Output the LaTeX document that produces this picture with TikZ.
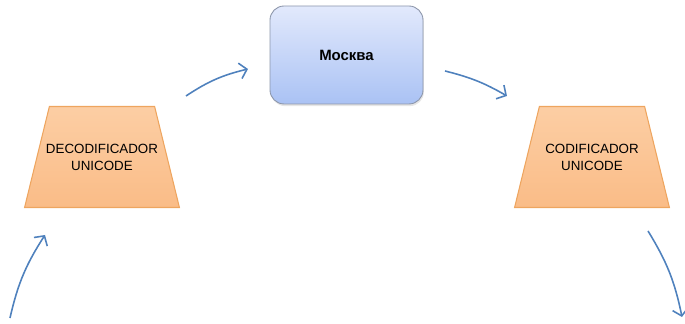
\documentclass[tikz,border=0pt]{standalone}
\usepackage{fontspec}
\setmainfont{Liberation Sans}
\usepackage{xcolor}
\usepackage{tikz}
\usetikzlibrary{calc,shapes,shapes.geometric,shadows,arrows.meta,positioning}
\definecolor{arrowblue}{RGB}{79,129,189}
\definecolor{boxtop}{RGB}{226,233,252}
\definecolor{boxbot}{RGB}{170,194,244}
\definecolor{boxline}{RGB}{140,150,170}
\definecolor{traptop}{RGB}{252,206,164}
\definecolor{trapbot}{RGB}{250,188,135}
\definecolor{trapline}{RGB}{238,165,95}

\begin{document}
\begin{tikzpicture}

           \tikzstyle{every edge}=[-{Straight Barb[length=4pt,width=9pt]},draw=arrowblue,line width=0.9pt]
           \tikzstyle{cityBox}=[rounded corners=8pt, draw=boxline, line width=0.5pt, top color=boxtop, bottom color=boxbot,
                                minimum width=3.06cm, minimum height=1.96cm, drop shadow={opacity=0.2,shadow xshift=0.5pt,shadow yshift=-1.2pt},
                                font=\fontsize{8.5}{10}\selectfont\bfseries]
           \tikzstyle{coderBox}=[trapezium, trapezium left angle=57, trapezium right angle=57, trapezium stretches body,
                                 draw=trapline, line width=0.6pt, top color=traptop, bottom color=trapbot,
                                 minimum width=2.4cm, minimum height=2.02cm, align=center, font=\fontsize{7.6}{9.7}\selectfont]

   \useasboundingbox (0,0) rectangle (13.7,6.48);

    \node[cityBox] (M) at (6.93,5.38) {Москва};
    \node[coderBox] (D) at (2.04,3.34) {\makebox[1.87cm]{DECODIFICADOR}\\\makebox[1.87cm]{UNICODE}};
    \node[coderBox] (C) at (11.84,3.34) {\makebox[1.87cm]{CODIFICADOR}\\\makebox[1.87cm]{UNICODE}};

    \coordinate (inA) at (0.2,0.12);
    \coordinate (inB) at (0.9,1.78);
    \coordinate (dm1) at (3.72,4.56);
    \coordinate (dm2) at (4.96,5.1);
    \coordinate (mc1) at (8.9,5.06);
    \coordinate (mc2) at (10.14,4.56);
    \coordinate (outA) at (12.96,1.86);
    \coordinate (outB) at (13.64,0.14);

    \path (inA) edge [bend left=10] (inB);
    \path (dm1) edge [bend left=10] (dm2);
    \path (mc1) edge [bend left=8] (mc2);
    \path (outA) edge [bend left=10] (outB);
 \end{tikzpicture}
\end{document}
